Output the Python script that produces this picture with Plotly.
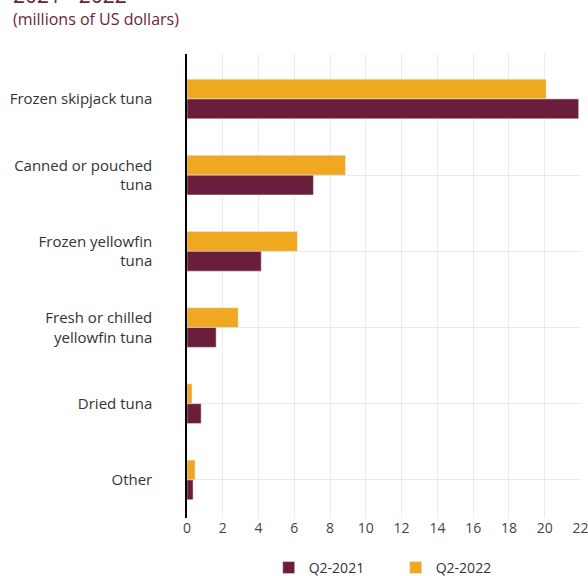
import plotly.graph_objects as go

categories = ["Frozen skipjack tuna", "Canned or pouched<br>tuna", "Frozen yellowfin<br>tuna",
              "Fresh or chilled<br>yellowfin tuna", "Dried tuna", "Other"]
q2_2021 = [21.9, 7.07, 4.15, 1.63, 0.79, 0.34]
q2_2022 = [20.08, 8.86, 6.17, 2.86, 0.28, 0.45]
x_ticks = list(range(0, 23, 2))

MAROON = "#6b1e3c"
GOLD = "#efa920"
FONT = "Open Sans"

fig = go.Figure()
fig.add_trace(go.Bar(y=categories, x=q2_2022, orientation="h", name="Q2-2022",
                     marker_color=GOLD, legendrank=2))
fig.add_trace(go.Bar(y=categories, x=q2_2021, orientation="h", name="Q2-2021",
                     marker_color=MAROON, legendrank=1))

fig.update_layout(
    width=588, height=576,
    margin=dict(l=187, r=7, t=54, b=58, autoexpand=False),
    plot_bgcolor="white", paper_bgcolor="white",
    barmode="group", bargap=0.48, bargroupgap=0,
    font=dict(family=FONT, size=14, color="#333333"),
    showlegend=True,
    legend=dict(orientation="h", xref="container", yref="container",
                x=0.457, y=0.014, xanchor="left", yanchor="middle",
                font=dict(size=14, color="#333333"), itemwidth=30,
                entrywidth=82, entrywidthmode="pixels"),
    xaxis=dict(range=[0, 22.03], tickvals=x_ticks, showgrid=True, gridcolor="#ebebeb",
               gridwidth=1, zeroline=False, showline=False, ticklabeloverflow="allow",
               tickfont=dict(size=14, color="#444444"), fixedrange=True),
    yaxis=dict(categoryorder="array", categoryarray=categories, range=[5.5, -0.59],
               showgrid=True, gridcolor="#ebebeb", gridwidth=1,
               showline=True, linecolor="#000000", linewidth=1.5,
               ticklabelstandoff=30, tickfont=dict(size=15, color="#333333")),
    annotations=[
        dict(text="2021 - 2022", xref="paper", yref="paper", x=-0.446, y=1.128,
             xanchor="left", yanchor="middle", showarrow=False,
             font=dict(family=FONT, size=21, color=MAROON)),
        dict(text="(millions of US dollars)", xref="paper", yref="paper", x=-0.446, y=1.0754,
             xanchor="left", yanchor="middle", showarrow=False,
             font=dict(family=FONT, size=16, color=MAROON)),
    ],
)

fig.write_html("out.html")
